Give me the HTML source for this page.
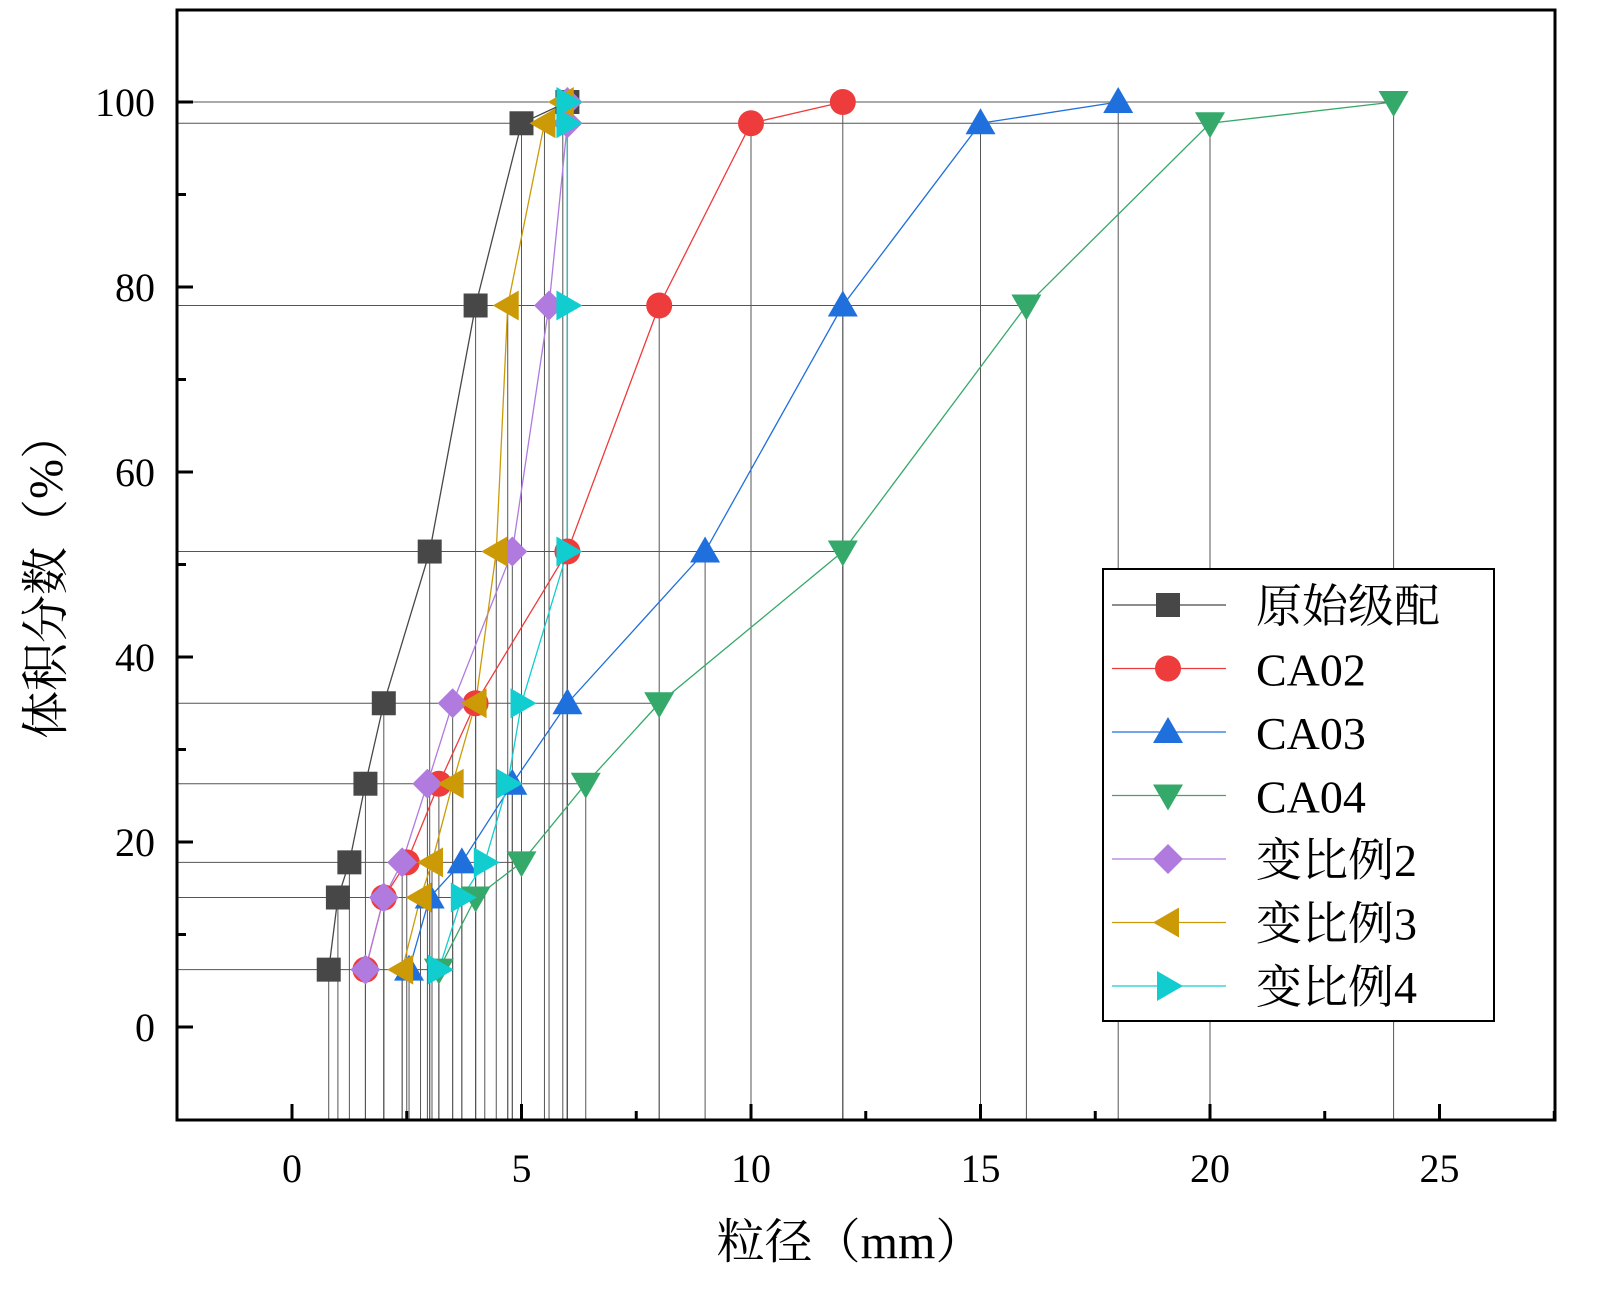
<!DOCTYPE html>
<html><head><meta charset="utf-8"><style>
html,body{margin:0;padding:0;background:#fff;}
svg{display:block;}
text{font-family:"Liberation Serif","Noto Serif CJK SC",serif;}
</style></head><body>
<svg id="chart" width="1600" height="1301" viewBox="0 0 1600 1301" xmlns="http://www.w3.org/2000/svg">
<g id="drops"></g>
<g id="lines"></g>
<g id="marks"></g>
<g id="axes"></g>
<g id="legend"></g>
</svg>
<script>
const yLevels = [6.2, 14, 17.8, 26.3, 35, 51.4, 78, 97.7, 100];
const seriesNames = ["原始级配","CA02","CA03","CA04","变比例2","变比例3","变比例4"];
const xOriginal = [0.8, 1.0, 1.25, 1.6, 2, 3, 4, 5, 6];
const xCA02 = [1.6, 2, 2.5, 3.2, 4, 6, 8, 10, 12];
const xCA03 = [2.55, 3, 3.7, 4.8, 6, 9, 12, 15, 18];
const xCA04 = [3.2, 4, 5, 6.4, 8, 12, 16, 20, 24];
const xVar2 = [1.6, 2, 2.4, 2.95, 3.5, 4.8, 5.6, 6, 6];
const xVar3 = [2.4, 2.8, 3.05, 3.5, 4, 4.45, 4.7, 5.5, 5.9];
const xVar4 = [3.2, 3.7, 4.2, 4.7, 5, 6, 6, 6, 6];
const xTicks = [0, 5, 10, 15, 20, 25];
const yTicks = [0, 20, 40, 60, 80, 100];

const NS="http://www.w3.org/2000/svg";
const L=177,R=1555,T=10,B=1120;
const X=v=>292+v*45.9;
const Y=v=>1027-v*9.25;
function mk(tag,attrs,parent){const e=document.createElementNS(NS,tag);for(const k in attrs)e.setAttribute(k,attrs[k]);parent.appendChild(e);return e;}
const colors=["#474747","#ee3b3b","#1f6fdc","#35a96a","#b07adf","#cc9a06","#12cdd0"];
const shapes=["square","circle","up","down","diamond","left","right"];
const allX=[xOriginal,xCA02,xCA03,xCA04,xVar2,xVar3,xVar4];

function marker(shape,cx,cy,col,parent){
  const s=13;let e;
  if(shape==="square") e=mk("rect",{x:cx-12,y:cy-12,width:24,height:24,fill:col},parent);
  else if(shape==="circle") e=mk("circle",{cx:cx,cy:cy,r:13,fill:col},parent);
  else{
    let p;
    if(shape==="up")p=[[cx,cy-15],[cx+15,cy+11],[cx-15,cy+11]];
    if(shape==="down")p=[[cx,cy+15],[cx+15,cy-11],[cx-15,cy-11]];
    if(shape==="left")p=[[cx-15,cy],[cx+11,cy-15],[cx+11,cy+15]];
    if(shape==="right")p=[[cx+15,cy],[cx-11,cy-15],[cx-11,cy+15]];
    if(shape==="diamond")p=[[cx,cy-15],[cx+15,cy],[cx,cy+15],[cx-15,cy]];
    e=mk("polygon",{points:p.map(q=>q.join(",")).join(" "),fill:col},parent);
  }
  return e;
}

const drops=document.getElementById("drops");
const lines=document.getElementById("lines");
const marks=document.getElementById("marks");
// horizontal drop lines: left axis to furthest point at each level
yLevels.forEach((yv,i)=>{
  let mx=-Infinity;allX.forEach(a=>{if(a[i]>mx)mx=a[i];});
  const e=mk("line",{x1:L,y1:Y(yv),x2:X(mx),y2:Y(yv),stroke:"#555",'stroke-width':1},drops);
  
  
});
allX.forEach((arr,si)=>{
  arr.forEach((xv,i)=>{
    const e=mk("line",{x1:X(xv),y1:Y(yLevels[i]),x2:X(xv),y2:B,stroke:"#555",'stroke-width':1},drops);
    
    
  });
});
allX.forEach((arr,si)=>{
  const pl=mk("polyline",{points:arr.map((xv,i)=>X(xv)+","+Y(yLevels[i])).join(" "),fill:"none",stroke:colors[si],'stroke-width':1.3},lines);
  
  
  arr.forEach((xv,i)=>{
    const m=marker(shapes[si],X(xv),Y(yLevels[i]),colors[si],marks);
    
    
  });
});

const axes=document.getElementById("axes");
const frame=mk("rect",{x:L,y:T,width:R-L,height:B-T,fill:"none",stroke:"#000",'stroke-width':3},axes);


for(let v=0;v<=27.5;v+=2.5){
  const maj=(v%5===0);
  const t=mk("line",{x1:X(v),y1:B,x2:X(v),y2:B-(maj?16:9),stroke:"#000",'stroke-width':3},axes);
  
  
}
xTicks.forEach(v=>{
  const t=mk("text",{x:X(v),y:1182,'font-size':40,'text-anchor':'middle',fill:"#000"},axes);t.textContent=v;
  
  
});
for(let v=0;v<=100;v+=10){
  const maj=(v%20===0);
  const t=mk("line",{x1:L,y1:Y(v),x2:L+(maj?16:9),y2:Y(v),stroke:"#000",'stroke-width':3},axes);
  
  
}
yTicks.forEach(v=>{
  const t=mk("text",{x:155,y:Y(v)+14,'font-size':40,'text-anchor':'end',fill:"#000"},axes);t.textContent=v;
  
  
});
const xt=mk("text",{x:850,y:1258,'font-size':48,'text-anchor':'middle',fill:"#000"},axes);xt.textContent="粒径（mm）";


const yt=mk("text",{x:0,y:0,'font-size':48,'text-anchor':'middle',fill:"#000",transform:"translate(62,575) rotate(-90)"},axes);yt.textContent="体积分数（%）";



const lg=document.getElementById("legend");
const box=mk("rect",{x:1103,y:569,width:391,height:452,fill:"#fff",stroke:"#000",'stroke-width':2},lg);


seriesNames.forEach((n,i)=>{
  const cy=605+i*63.5;
  const g=mk("g",{},lg);
  
  
  mk("line",{x1:1112,y1:cy,x2:1226,y2:cy,stroke:colors[i],'stroke-width':1.3},g);
  marker(shapes[i],1168,cy,colors[i],g);
  const t=mk("text",{x:1256,y:cy+17,'font-size':46,fill:"#000"},g);t.textContent=n;
});
</script>
</body></html>
